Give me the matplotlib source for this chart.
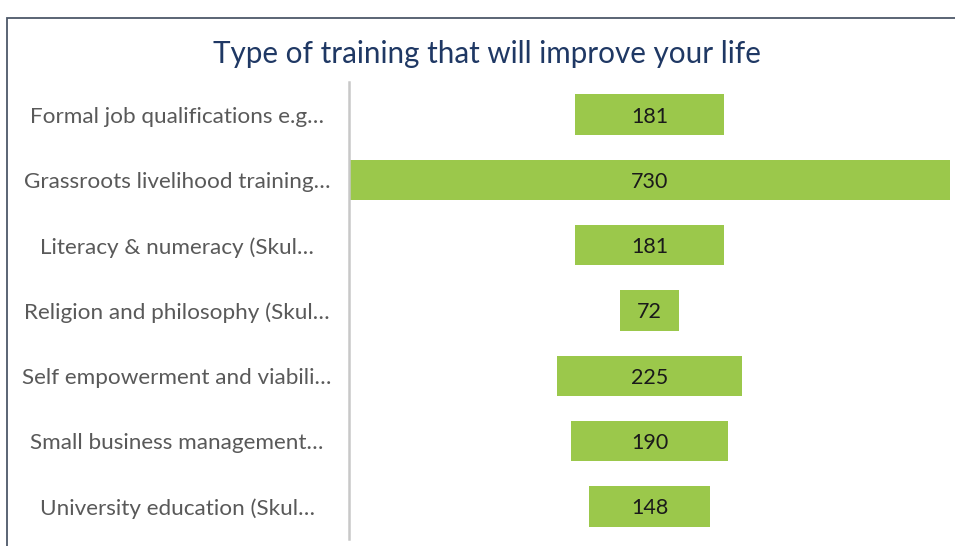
import matplotlib
matplotlib.use("Agg")
import matplotlib.pyplot as plt
from matplotlib.patches import Rectangle

categories = [
    "Formal job qualifications e.g…",
    "Grassroots livelihood training…",
    "Literacy & numeracy (Skul…",
    "Religion and philosophy (Skul…",
    "Self empowerment and viabili…",
    "Small business management…",
    "University education (Skul…",
]
values = [181, 730, 181, 72, 225, 190, 148]
title = "Type of training that will improve your life"

plt.rcParams['font.family'] = ['Lato', 'DejaVu Sans']

fig = plt.figure(figsize=(9.55, 5.46), dpi=100)
W, H = 955, 546

# frame
fig.patches.append(Rectangle((6.5 / W, -0.1), 1.2, 1 - 17.5 / H + 0.1,
                             transform=fig.transFigure, fill=False,
                             edgecolor="#4D5869", linewidth=1.3))

ax = fig.add_axes([349 / W, 7 / H, 601 / W, 457 / H])
n = len(values)
ys = list(range(n))
vmax = max(values)
ax.barh(ys, values, left=[-v / 2 for v in values], height=0.62,
        color="#9BC84B", edgecolor="none")
for y, v in zip(ys, values):
    ax.text(0, y, str(v), ha="center", va="center_baseline", fontsize=15.5, color="#1a1a1a")
ax.set_xlim(-vmax / 2, vmax / 2)
ax.set_ylim(n - 0.5, -0.5)
ax.set_xticks([])
ax.set_yticks([])
for s in ["top", "right", "bottom"]:
    ax.spines[s].set_visible(False)
ax.spines["left"].set_color("#C8C8C8")
ax.spines["left"].set_linewidth(1.8)

for y, c in zip(ys, categories):
    yf = ax.transData.transform((0, y))[1]
    fig.text(177 / W, yf / H, c, ha="center", va="center_baseline", fontsize=16.2, color="#595959")

fig.text(487 / W, 1 - 51 / H, title, ha="center", va="center_baseline", fontsize=21.3, color="#1F3864")

fig.savefig("out.png", dpi=100)
